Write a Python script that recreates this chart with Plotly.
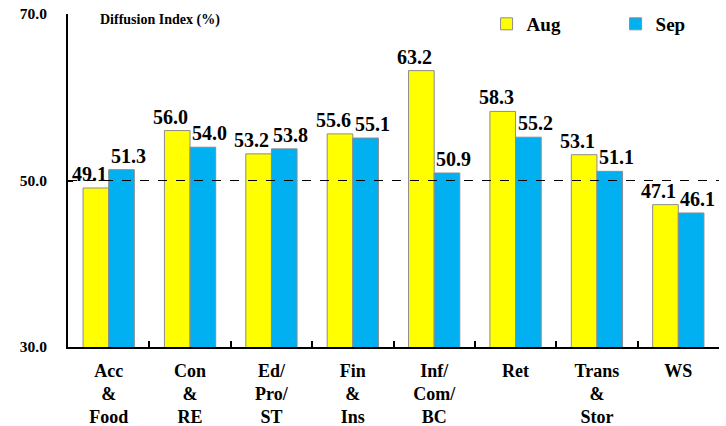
import plotly.graph_objects as go

categories = ["Acc<br>&<br>Food", "Con<br>&<br>RE", "Ed/<br>Pro/<br>ST", "Fin<br>&<br>Ins",
              "Inf/<br>Com/<br>BC", "Ret", "Trans<br>&<br>Stor", "WS"]
aug = [49.1, 56.0, 53.2, 55.6, 63.2, 58.3, 53.1, 47.1]
sep = [51.3, 54.0, 53.8, 55.1, 50.9, 55.2, 51.1, 46.1]
y_ticks = [30, 50, 70]

FONT = "Liberation Serif"

fig = go.Figure()
for name, vals, col in [("Aug", aug, "#FFFF00"), ("Sep", sep, "#00B0F0")]:
    fig.add_trace(go.Bar(
        x=categories, y=vals, name=f"<b>{name}</b>",
        marker=dict(color=col, line=dict(color="#8c8c8c", width=1)),
    ))

# value labels: Aug right-aligned to group centre, Sep left-aligned
for vals, anchor in [(aug, "right"), (sep, "left")]:
    for c, v in zip(categories, vals):
        fig.add_annotation(x=c, y=v, text=f"<b>{v:.1f}</b>", showarrow=False,
                           xanchor=anchor, yanchor="bottom", xshift=0, yshift=1,
                           font=dict(family=FONT, size=20, color="black"))

fig.add_hline(y=50, line=dict(color="black", width=1, dash="dash"))

fig.add_annotation(text="<b>Diffusion Index (%)</b>", xref="paper", yref="paper",
                   x=0.046, y=0.982, xanchor="left", yanchor="middle", showarrow=False,
                   font=dict(family=FONT, size=14, color="black"))

fig.update_layout(
    width=726, height=426,
    margin=dict(l=68, r=7, t=14, b=79, autoexpand=False),
    plot_bgcolor="white", paper_bgcolor="white",
    barmode="group", bargap=0.37, bargroupgap=0,
    showlegend=True,
    legend=dict(orientation="h", x=0.643, y=0.97, xanchor="left", yanchor="middle",
                font=dict(family=FONT, size=19, color="black"),
                entrywidth=84, entrywidthmode="pixels", itemwidth=30,
                bgcolor="rgba(0,0,0,0)"),
    xaxis=dict(showline=True, linecolor="black", linewidth=2, ticks="inside",
               tickson="boundaries", ticklen=6, tickwidth=2, tickcolor="black",
               tickfont=dict(family=FONT, size=18, color="black"),
               tickprefix="<b>", ticksuffix="</b>", ticklabelstandoff=6),
    yaxis=dict(range=[30, 70], tickvals=y_ticks, ticktext=[f"<b>{v:.1f}</b>" for v in y_ticks],
               showline=True, linecolor="black", linewidth=2, ticks="inside",
               ticklen=5, tickwidth=2, tickcolor="black", showgrid=False, zeroline=False,
               tickfont=dict(family=FONT, size=15.5, color="black"), ticklabelstandoff=16),
)
fig.write_html("out.html")
